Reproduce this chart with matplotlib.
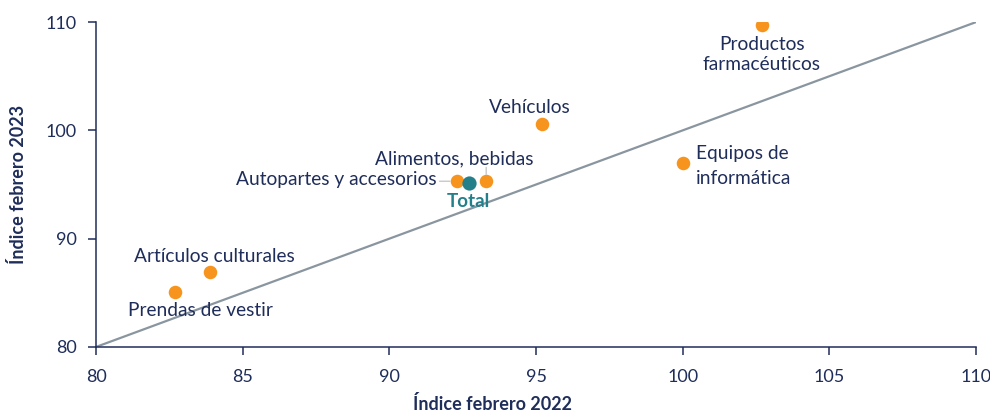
import matplotlib
matplotlib.use("Agg")
import matplotlib.pyplot as plt
import numpy as np

# valores (indices febrero 2022 vs febrero 2023)
categorias = ["Productos\nfarmacéuticos", "Vehículos", "Equipos de\ninformática",
              "Alimentos, bebidas", "Autopartes y accesorios",
              "Artículos culturales", "Prendas de vestir"]
feb_2022 = [102.7, 95.2, 100.0, 93.3, 92.3, 83.9, 82.7]
feb_2023 = [109.7, 100.6, 97.0, 95.3, 95.3, 86.9, 85.1]
total_2022 = 92.7
total_2023 = 95.1
ticks = [80, 85, 90, 95, 100, 105, 110]

NAVY = "#1f2d5a"
ORANGE = "#f7941d"
TEAL = "#23808a"
GRAY = "#8a969f"

plt.rcParams["font.family"] = ["Lato", "DejaVu Sans"]

fig = plt.figure(figsize=(9.9, 4.16), dpi=100)
ax = fig.add_axes([0.097, 0.166, 0.889, 0.781])

ax.plot([ticks[0], ticks[-1]], [ticks[0], ticks[-1]], color=GRAY, lw=1.6, zorder=1)
ax.scatter(feb_2022, feb_2023, s=95, color=ORANGE, zorder=3, linewidths=0)
ax.scatter([total_2022], [total_2023], s=105, color=TEAL, zorder=4, linewidths=0)

# posicion de cada etiqueta respecto a su punto (en puntos)
offsets = [(0, -21, "center", "center", 1.15),
           (-8.6, 11.5, "center", "center", 1.15),
           (9.4, -2.5, "left", "center", 1.55),
           (-23, 16, "center", "center", 1.15),
           (-14.4, 1.4, "right", "center", 1.15),
           (3, 11.5, "center", "center", 1.15),
           (18, -13.7, "center", "center", 1.15)]

for name, x, y, (dx, dy, ha, va, ls) in zip(categorias, feb_2022, feb_2023, offsets):
    ax.annotate(name, (x, y), xytext=(dx, dy), textcoords="offset points",
                ha=ha, va=va, fontsize=13.8, color=NAVY, linespacing=ls, zorder=5)

ax.annotate("Total", (total_2022, total_2023), xytext=(0, -13), textcoords="offset points",
            ha="center", va="center", fontsize=13.5, color=TEAL, fontweight="bold", zorder=5)

# lineas guia
ax.annotate("", (feb_2022[3], feb_2023[3]), xytext=(0, 10), textcoords="offset points",
            arrowprops=dict(arrowstyle="-", color="#c8c8c8", lw=1, shrinkA=0, shrinkB=5))
ax.annotate("", (feb_2022[4], feb_2023[4]), xytext=(-12.5, 0), textcoords="offset points",
            arrowprops=dict(arrowstyle="-", color="#c8c8c8", lw=1, shrinkA=0, shrinkB=5))

ax.set_xlim(ticks[0], ticks[-1])
ax.set_ylim(ticks[0], ticks[-1])
ax.set_xticks(ticks)
ax.set_yticks(ticks[::2])
for s in ["top", "right"]:
    ax.spines[s].set_visible(False)
for s in ["left", "bottom"]:
    ax.spines[s].set_color(NAVY)
    ax.spines[s].set_linewidth(1.1)
ax.tick_params(colors=NAVY, labelsize=13, length=6, width=1.1)
ax.tick_params(axis="x", pad=10)
ax.tick_params(axis="y", pad=8)

ax.set_xlabel("Índice febrero 2022", fontsize=13, fontweight="bold", color=NAVY)
ax.xaxis.set_label_coords(0.45, -0.148)
ax.set_ylabel("Índice febrero 2023", fontsize=13, fontweight="bold", color=NAVY)
ax.yaxis.set_label_coords(-0.078, 0.5)

fig.savefig("out.png", dpi=100)
